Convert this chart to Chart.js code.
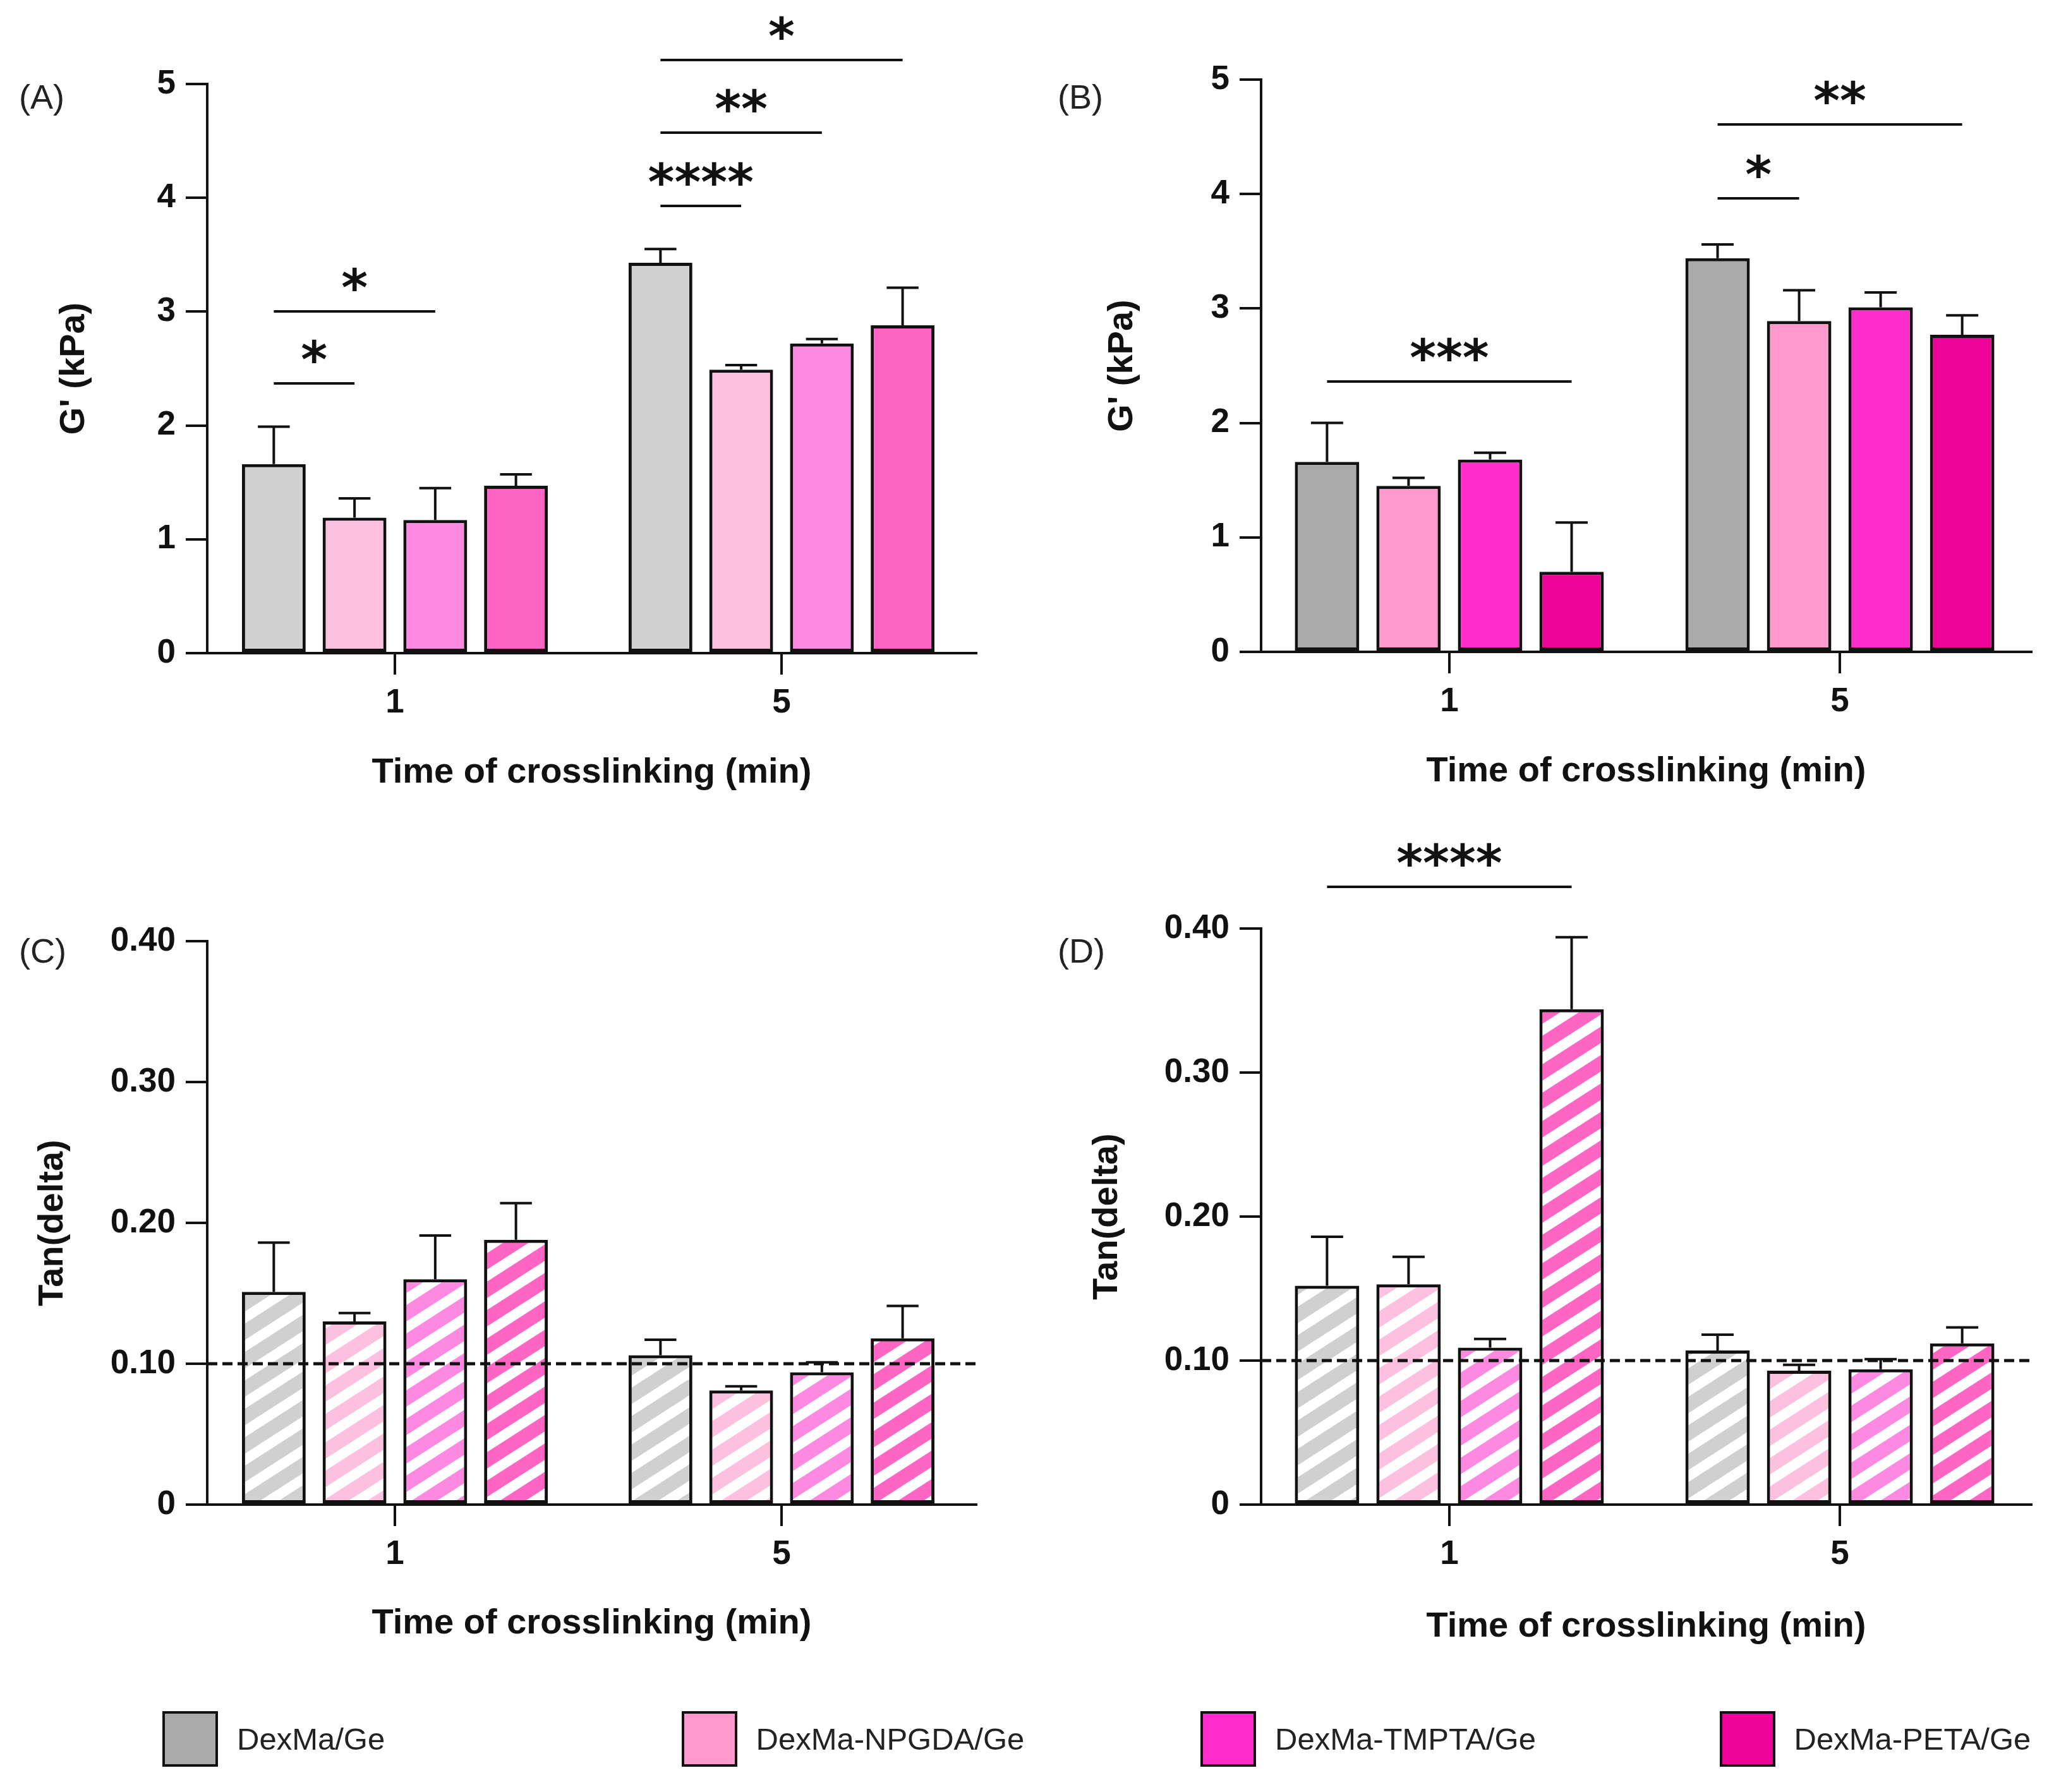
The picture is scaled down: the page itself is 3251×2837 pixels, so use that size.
<!DOCTYPE html>
<html><head><meta charset="utf-8">
<script src="https://cdn.jsdelivr.net/npm/chart.js@4.4.0/dist/chart.umd.min.js"></script>
<style>
html,body{margin:0;padding:0;background:#fff;}
body{width:3251px;height:2837px;position:relative;overflow:hidden;font-family:"Liberation Sans",Arial,sans-serif;}
canvas{position:absolute;}
.plabel{position:absolute;font-size:54px;line-height:54px;color:#222;}
.lg{position:absolute;display:flex;align-items:center;font-size:49px;color:#222;}
.sw{width:80px;height:80px;border:4px solid #111;margin-right:30px;}
</style></head><body>
<canvas id="cA" width="1625" height="1300" style="left:0;top:0"></canvas>
<canvas id="cB" width="1626" height="1300" style="left:1625px;top:0"></canvas>
<canvas id="cC" width="1625" height="1340" style="left:0;top:1300px"></canvas>
<canvas id="cD" width="1626" height="1340" style="left:1625px;top:1300px"></canvas>
<div class="plabel" style="left:30px;top:126px">(A)</div>
<div class="plabel" style="left:1674px;top:126px">(B)</div>
<div class="plabel" style="left:30px;top:1478px">(C)</div>
<div class="plabel" style="left:1674px;top:1478px">(D)</div>
<div id="legend"></div>
<script>
// ---------- data ----------
const categories = ['1', '5'];
const seriesNames = ['DexMa/Ge', 'DexMa-NPGDA/Ge', 'DexMa-TMPTA/Ge', 'DexMa-PETA/Ge'];

// Panel A: G' (kPa), rows = series, cols = categories
const meanA = [[1.66, 3.43], [1.19, 2.49], [1.17, 2.72], [1.47, 2.88]];
const errA  = [[0.33, 0.12], [0.17, 0.04], [0.28, 0.04], [0.10, 0.33]];
// Panel B
const meanB = [[1.66, 3.44], [1.45, 2.89], [1.68, 3.01], [0.70, 2.77]];
const errB  = [[0.34, 0.12], [0.07, 0.27], [0.06, 0.13], [0.43, 0.17]];
// Panel C: tan(delta)
const meanC = [[0.151, 0.106], [0.130, 0.081], [0.160, 0.094], [0.188, 0.118]];
const errC  = [[0.035, 0.011], [0.006, 0.003], [0.031, 0.007], [0.026, 0.023]];
// Panel D
const meanD = [[0.152, 0.107], [0.153, 0.093], [0.109, 0.094], [0.344, 0.112]];
const errD  = [[0.034, 0.011], [0.019, 0.004], [0.006, 0.007], [0.050, 0.011]];

// significance brackets: [category index, from series, to series, level, label]
const sigA = [[0, 0, 1, 2.37, '*'], [0, 0, 2, 3.0, '*'], [1, 0, 1, 3.93, '****'], [1, 0, 2, 4.57, '**'], [1, 0, 3, 5.21, '*']];
const sigB = [[0, 0, 3, 2.36, '***'], [1, 0, 1, 3.96, '*'], [1, 0, 3, 4.61, '**']];
const sigC = [];
const sigD = [[0, 0, 3, 0.429, '****']];

const refLineTan = 0.10;
const ticksG = ['0', '1', '2', '3', '4', '5'];
const ticksTan = ['0', '0.10', '0.20', '0.30', '0.40'];

const colorsA = ['#d0d0d0', '#fdc1df', '#fe89e0', '#ff66c4'];
const colorsB = ['#aaaaaa', '#ff99cc', '#ff2dcc', '#ee0399'];

// ---------- helpers ----------
const FONT = '"Liberation Sans", Arial, sans-serif';
const INK = '#111';

function hatch(color) {
  const w = 70, h = 45;
  const c = document.createElement('canvas');
  c.width = w; c.height = h;
  const g = c.getContext('2d');
  g.fillStyle = color; g.fillRect(0, 0, w, h);
  g.strokeStyle = '#ffffff'; g.lineWidth = 16;
  for (const k of [0, 1, 2]) {
    g.beginPath();
    g.moveTo(w * (k - 2), 2 * h);
    g.lineTo(w * (k + 1), -h);
    g.stroke();
  }
  return g.createPattern(c, 'repeat');
}

const errorBarPlugin = {
  id: 'errorBars',
  afterDatasetsDraw(chart, args, opts) {
    const ctx = chart.ctx, ys = chart.scales.y;
    ctx.save();
    ctx.strokeStyle = INK; ctx.lineWidth = 4; ctx.lineCap = 'butt';
    chart.data.datasets.forEach((ds, i) => {
      const meta = chart.getDatasetMeta(i);
      meta.data.forEach((el, j) => {
        const top = ys.getPixelForValue(ds.data[j] + opts.errors[i][j]);
        const cap = el.width * 0.5;
        ctx.beginPath();
        ctx.moveTo(el.x, el.y);
        ctx.lineTo(el.x, top);
        ctx.moveTo(el.x - cap / 2, top);
        ctx.lineTo(el.x + cap / 2, top);
        ctx.stroke();
      });
    });
    ctx.restore();
  }
};

const refLinePlugin = {
  id: 'refLine',
  afterDatasetsDraw(chart, args, opts) {
    if (opts.value == null) return;
    const ctx = chart.ctx, a = chart.chartArea;
    const y = chart.scales.y.getPixelForValue(opts.value);
    ctx.save();
    ctx.strokeStyle = INK; ctx.lineWidth = 5; ctx.setLineDash([16, 8]);
    ctx.beginPath(); ctx.moveTo(a.left, y); ctx.lineTo(a.right, y); ctx.stroke();
    ctx.restore();
  }
};

const sigPlugin = {
  id: 'sig',
  afterDraw(chart, args, opts) {
    const ctx = chart.ctx, ys = chart.scales.y;
    ctx.save();
    ctx.strokeStyle = INK; ctx.fillStyle = INK; ctx.lineWidth = 4;
    ctx.font = 'bold 80px "DejaVu Sans"';
    ctx.textAlign = 'center'; ctx.textBaseline = 'alphabetic';
    (opts.items || []).forEach(([cat, from, to, level, label]) => {
      const x1 = chart.getDatasetMeta(from).data[cat].x;
      const x2 = chart.getDatasetMeta(to).data[cat].x;
      const y = Math.round(ys.getPixelForValue(level));
      ctx.beginPath(); ctx.moveTo(x1, y); ctx.lineTo(x2, y); ctx.stroke();
      ctx.fillText(label, (x1 + x2) / 2, y - 10);
    });
    ctx.restore();
  }
};

function makeChart(id, cfg) {
  const datasets = seriesNames.map((name, i) => ({
    label: name,
    data: cfg.means[i],
    backgroundColor: cfg.fills[i],
    borderColor: INK,
    borderWidth: 5,
    borderSkipped: false
  }));
  const tickFont = { family: FONT, size: 53, weight: 'bold' };
  const titleFont = { family: FONT, size: 56, weight: 'bold' };
  return new Chart(document.getElementById(id), {
    type: 'bar',
    data: { labels: categories, datasets },
    plugins: [errorBarPlugin, refLinePlugin, sigPlugin],
    options: {
      responsive: false,
      animation: false,
      devicePixelRatio: 1,
      layout: { padding: { left: 0, top: cfg.padTop, right: cfg.padRight, bottom: 0 } },
      datasets: { bar: { categoryPercentage: 0.835, barPercentage: 0.79 } },
      plugins: {
        legend: { display: false },
        tooltip: { enabled: false },
        errorBars: { errors: cfg.errors },
        refLine: { value: cfg.refLine },
        sig: { items: cfg.sig }
      },
      scales: {
        x: {
          offset: true,
          grid: { display: true, drawOnChartArea: false, drawTicks: true, tickLength: 34, offset: false, color: INK, lineWidth: 4 },
          border: { display: true, color: INK, width: 4 },
          ticks: { font: tickFont, color: INK, padding: 14 },
          title: { display: true, text: 'Time of crosslinking (min)', font: titleFont, color: INK, padding: { top: 0, bottom: cfg.xTitlePad } },
          afterFit: s => { s.height = cfg.xHeight; },
          // GraphPad leaves a slightly smaller gap before the first group than after the last
          afterBuildTicks: s => { s._startValue = cfg.xStart; s._valueRange = cfg.xRange; }
        },
        y: {
          min: 0, max: cfg.max,
          grid: { display: true, drawOnChartArea: false, drawTicks: true, tickLength: 34, color: INK, lineWidth: 4 },
          border: { display: true, color: INK, width: 4 },
          ticks: {
            stepSize: cfg.step, font: tickFont, color: INK, padding: 16,
            callback: (v, idx) => cfg.tickLabels[idx]
          },
          title: { display: true, text: cfg.yTitle, font: titleFont, color: INK, padding: { top: cfg.yTitlePad, bottom: 0 } },
          afterFit: s => { s.width = cfg.yWidth; }
        }
      }
    }
  });
}

const leftCol = { padRight: 80, yWidth: 328, xStart: -0.4853, xRange: 1.9886 };
const rightCol = { padRight: 36, yWidth: 371, xStart: -0.482, xRange: 1.972 };

makeChart('cA', Object.assign({ means: meanA, errors: errA, fills: colorsA, sig: sigA, refLine: null,
  max: 5, step: 1, tickLabels: ticksG, yTitle: "G' (kPa)",
  padTop: 133, xHeight: 266, xTitlePad: 43, yTitlePad: 84 }, leftCol));
makeChart('cB', Object.assign({ means: meanB, errors: errB, fills: colorsB, sig: sigB, refLine: null,
  max: 5, step: 1, tickLabels: ticksG, yTitle: "G' (kPa)",
  padTop: 126, xHeight: 268, xTitlePad: 45, yTitlePad: 118 }, rightCol));
makeChart('cC', Object.assign({ means: meanC, errors: errC, fills: colorsA.map(hatch), sig: sigC, refLine: refLineTan,
  max: 0.4, step: 0.1, tickLabels: ticksTan, yTitle: 'Tan(delta)',
  padTop: 190, xHeight: 258, xTitlePad: 36, yTitlePad: 50 }, leftCol));
makeChart('cD', Object.assign({ means: meanD, errors: errD, fills: colorsA.map(hatch), sig: sigD, refLine: refLineTan,
  max: 0.4, step: 0.1, tickLabels: ticksTan, yTitle: 'Tan(delta)',
  padTop: 170, xHeight: 258, xTitlePad: 31, yTitlePad: 94 }, rightCol));

// ---------- legend ----------
const legend = document.getElementById('legend');
seriesNames.forEach((name, i) => {
  const item = document.createElement('div');
  item.className = 'lg';
  item.style.left = (257 + i * 821.5) + 'px';
  item.style.top = '2709px';
  const sw = document.createElement('div');
  sw.className = 'sw';
  sw.style.background = colorsB[i];
  const tx = document.createElement('span');
  tx.textContent = name;
  item.appendChild(sw); item.appendChild(tx);
  legend.appendChild(item);
});
</script>
</body></html>
